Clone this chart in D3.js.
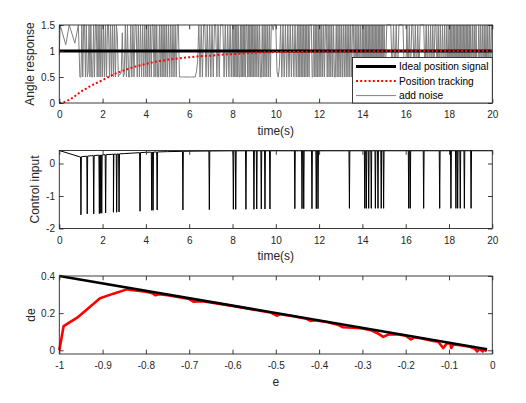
<!DOCTYPE html>
<html>
<head>
<meta charset="utf-8">
<script src="https://cdn.jsdelivr.net/npm/d3@7"></script>
<style>
  body { margin: 0; background: #fff; }
  svg { display: block; font-family: "Liberation Sans", Arial, Helvetica, sans-serif; }
</style>
</head>
<body>
<div id="chart"></div>
<script>
// ---- data ----
const H = 1.5, L = 0.5;

// panel 1: angle response
const idealT = [0, 20];
const idealV = [1, 1];
const trackT = [0, 0.25, 0.5, 0.75, 1, 1.5, 2, 2.5, 3, 3.5, 4, 4.5, 5, 5.5, 6, 6.5, 7, 7.5, 8, 9, 10, 11, 12, 14, 16, 18, 20];
const trackV = [0, 0.02, 0.07, 0.14, 0.22, 0.34, 0.44, 0.55, 0.63, 0.70, 0.75, 0.80, 0.83, 0.86, 0.88, 0.90, 0.91, 0.93, 0.94, 0.97, 0.98, 0.985, 0.99, 0.995, 1, 1, 1];
// noise: a few early samples, then one row per second from t = 1
// (samples spread evenly across that second; denser rows where the picture is denser)
const noiseEarlyT = [0, 0.04, 0.3, 0.46, 0.72, 0.88, 0.95];
const noiseEarlyV = [0.92, 1.5, 1.12, 1.5, 1.15, 1.5, 0.5];
const noiseRowStart = 1;
const noiseRows = [
  [L,H,L,H,H,L,H,L,0.6,H,L,H,L,L,H,L,H,H,L,H,L,H,L,H],
  [L,H,L,H,L,H,H,L,H,L,H,L,H,L,H,1.3,L,0.55,0.55,0.6,1.35,L],
  [0.55,H,L,H,L,L,H,L,H,L,H,H,L,H,L,H,L,H,L,H],
  [L,H,L,H,L,H,L,H,H,L,H,L,H,L,L,H,L,H,L,H,L,H,L,H],
  [L,H,L,H,L,H,L,H,L,H,H,L,L,L,L,L,L,L,L,L],
  [L,L,L,L,L,L,0.6,0.8,H,L,H,L,H,H,L,H,L,H],
  [L,H,L,H,H,L,H,L,H,H,H,L,H,L,H,L,H,L],
  [H,L,H,L,H,L,H,L,H,L,L,H,L,H,L,H,L,H,L,H,H,L,H,L,H,L,H,L,H,L],
  [H,L,H,L,H,L,H,L,L,H,L,H,L,H,L,H,L,H,L,H,H,1.4,H,H],
  [H,0.6,L,0.7,H,L,H,L,H,L,H,L,H,L,H,L,H,L],
  [H,L,H,L,H,L,H,L,H,L,H,L,H,L,H,L,H,H,H,L,L,H,L,H,L,H,L,H],
  [L,H,L,H,L,H,L,H,H,L,H,L,H,L,H,L,H,L,L,H,L,H,L,H],
  [L,H,L,H,L,H,L,H,L,H,L,H,L,H,H,L,H,L,H,L,H,L,H,L],
  [H,L,H,L,H,L,H,L,H,L,H,L,H,L,H,L,H,L,H,L,H,L,H,L,H,L,H,L,H,L],
  [H,L,H,H,H,H,L,H,L,H,L,H,H,H,H,L],
  [L,H,L,H,L,H,H,L,H,L,H,L,H,H,H,H,L,H],
  [L,H,L,H,L,H,L,H,H,L,H,L,H,L,H,L,H,L,H,L],
  [H,L,H,L,H,L,H,L,H,L,H,L,H,L,H,L,H,L,H,L,H,L,H,L,H,L,H,L,H,L],
  [H,L,H,L,H,L,H,L,L,H,L,H,L,H,L,H,L,H,L,H,L,H,L,H],
  [H]
];

// panel 2: control input (slow baseline plus short downward spikes)
const ctrlBaseT = [0, 0.97, 1.03, 1.5, 2, 2.5, 3, 3.5, 4, 5, 6, 7, 8, 20];
const ctrlBaseU = [0.4, 0.2, 0.21, 0.24, 0.265, 0.285, 0.305, 0.325, 0.345, 0.365, 0.378, 0.385, 0.39, 0.392];
const spikeT = [1.00, 1.29, 1.59, 1.85, 1.89, 1.96, 2.14, 2.50, 2.65, 2.76, 3.73, 4.27, 4.33, 4.52, 5.71, 6.93,
  8.04, 8.15, 8.62, 8.99, 9.12, 9.33, 9.50, 9.73, 10.88, 11.21, 11.29, 11.67, 11.87, 11.95, 13.40,
  14.11, 14.18, 14.29, 14.41, 14.60, 14.72, 14.87, 14.98, 16.14, 16.21, 16.83, 17.57, 18.09, 18.32,
  18.40, 18.52, 18.71, 19.02];
const spikeU = [-1.58, -1.55, -1.55, -1.54, -1.53, -1.53, -1.52, -1.50, -1.50, -1.49, -1.47, -1.44, -1.44, -1.43, -1.43, -1.42,
  -1.41, -1.41, -1.41, -1.41, -1.40, -1.40, -1.40, -1.40, -1.39, -1.39, -1.39, -1.39, -1.39, -1.39, -1.38,
  -1.38, -1.38, -1.38, -1.38, -1.38, -1.38, -1.38, -1.38, -1.38, -1.38, -1.38, -1.38, -1.38, -1.38,
  -1.38, -1.38, -1.38, -1.38];

// panel 3: phase plane
const surfE = [-1, -0.012];
const surfDe = [0.4, 0.006];
const phaseE = [-1, -0.99, -0.956, -0.906, -0.875, -0.844, -0.80, -0.785, -0.778, -0.77, -0.75, -0.72, -0.70, -0.69, -0.67,
  -0.64, -0.60, -0.55, -0.51, -0.498, -0.49, -0.46, -0.43, -0.42, -0.41, -0.38, -0.355, -0.345, -0.32, -0.30,
  -0.28, -0.265, -0.252, -0.24, -0.22, -0.20, -0.188, -0.18, -0.16, -0.14, -0.125, -0.113, -0.105, -0.097,
  -0.095, -0.09, -0.07, -0.05, -0.04, -0.035, -0.03, -0.022, -0.018, -0.013];
const phaseDe = [0, 0.13, 0.18, 0.28, 0.305, 0.328, 0.315, 0.307, 0.296, 0.302, 0.296, 0.285, 0.276, 0.262, 0.264,
  0.254, 0.238, 0.218, 0.202, 0.186, 0.194, 0.183, 0.17, 0.158, 0.162, 0.151, 0.136, 0.124, 0.122, 0.118,
  0.108, 0.092, 0.072, 0.085, 0.086, 0.078, 0.058, 0.07, 0.062, 0.052, 0.046, 0.012, 0.038, 0.035,
  0.012, 0.032, 0.026, 0.018, 0.008, -0.006, 0.01, -0.006, 0.005, -0.006];

// ticks
const timeTicks = [0, 2, 4, 6, 8, 10, 12, 14, 16, 18, 20];
const timeTickLabels = ["0", "2", "4", "6", "8", "10", "12", "14", "16", "18", "20"];
const angleTicks = [0, 0.5, 1, 1.5];
const angleTickLabels = ["0", "0.5", "1", "1.5"];
const ctrlTicks = [-2, -1, 0];
const ctrlTickLabels = ["-2", "-1", "0"];
const eTicks = [-1, -0.9, -0.8, -0.7, -0.6, -0.5, -0.4, -0.3, -0.2, -0.1, 0];
const eTickLabels = ["-1", "-0.9", "-0.8", "-0.7", "-0.6", "-0.5", "-0.4", "-0.3", "-0.2", "-0.1", "0"];
const deTicks = [0, 0.2, 0.4];
const deTickLabels = ["0", "0.2", "0.4"];

const legendNames = ["Ideal position signal", "Position tracking", "add noise"];

// ---- layout ----
const W = 526, Hh = 403;
const left = 59.3, right = 492.3, ph = 78;
const AX = '#262626';
const TICK = 4.3;

const svg = d3.select('#chart').append('svg')
  .attr('width', W).attr('height', Hh);

function panel(top, xDomain, yDomain, xTicks, xLabels, yTicks, yLabels, xTitle, yTitle, yTitleX) {
  const x = d3.scaleLinear().domain(xDomain).range([left, right]);
  const y = d3.scaleLinear().domain(yDomain).range([top + ph, top]);
  const g = svg.append('g');
  const plot = g.append('g');

  const style = sel => {
    sel.select('.domain').remove();
    sel.selectAll('line').attr('stroke', AX).attr('stroke-width', 0.9);
    sel.selectAll('text').attr('fill', AX).attr('font-size', 10).attr('font-family', null);
  };
  g.append('g').attr('transform', `translate(0,${top + ph})`)
    .call(d3.axisBottom(x).tickValues(xTicks).tickFormat((d, i) => xLabels[i])
      .tickSizeInner(-TICK).tickSizeOuter(0).tickPadding(8.3)).call(style);
  g.append('g').attr('transform', `translate(0,${top})`)
    .call(d3.axisTop(x).tickValues(xTicks).tickFormat('')
      .tickSizeInner(-TICK).tickSizeOuter(0)).call(style);
  g.append('g').attr('transform', `translate(${left},0)`)
    .call(d3.axisLeft(y).tickValues(yTicks).tickFormat((d, i) => yLabels[i])
      .tickSizeInner(-TICK).tickSizeOuter(0).tickPadding(4.3)).call(style);
  g.append('g').attr('transform', `translate(${right},0)`)
    .call(d3.axisRight(y).tickValues(yTicks).tickFormat('')
      .tickSizeInner(-TICK).tickSizeOuter(0)).call(style);

  g.append('rect')
    .attr('x', left).attr('y', top).attr('width', right - left).attr('height', ph)
    .attr('fill', 'none').attr('stroke', AX).attr('stroke-width', 0.9);

  g.append('text')
    .attr('x', (left + right) / 2).attr('y', top + ph + 31.6)
    .attr('text-anchor', 'middle').attr('font-size', 12).attr('fill', AX)
    .text(xTitle);
  g.append('text')
    .attr('transform', `translate(${yTitleX},${top + ph / 2}) rotate(-90)`)
    .attr('text-anchor', 'middle').attr('font-size', 12).attr('fill', AX)
    .text(yTitle);

  return { x, y, plot, g };
}

function drawLine(p, xs, ys, color, width, dash) {
  const pts = xs.map((d, i) => [d, ys[i]]);
  const path = p.plot.append('path')
    .datum(pts)
    .attr('fill', 'none')
    .attr('stroke', color)
    .attr('stroke-width', width)
    .attr('stroke-linejoin', 'round')
    .attr('d', d3.line().x(d => p.x(d[0])).y(d => p.y(d[1])));
  if (dash) path.attr('stroke-dasharray', dash);
  return path;
}

// ---- panel 1 ----
const p1 = panel(25, [0, 20], [0, 1.5], timeTicks, timeTickLabels, angleTicks, angleTickLabels,
  'time(s)', 'Angle response', 34);

const noiseT = noiseEarlyT.slice(), noiseAll = noiseEarlyV.slice();
noiseRows.forEach((row, r) => {
  row.forEach((v, j) => {
    noiseT.push(noiseRowStart + r + j / row.length);
    noiseAll.push(v);
  });
});
drawLine(p1, noiseT, noiseAll, '#7f7f7f', 1);
drawLine(p1, idealT, idealV, '#000', 3);
drawLine(p1, trackT, trackV, '#ff0000', 2, '2,2.2');

// legend
const lg = p1.g.append('g');
const lx0 = 352.5, ly0 = 57.5;
lg.append('rect')
  .attr('x', lx0).attr('y', ly0).attr('width', right - lx0).attr('height', 25 + ph - ly0)
  .attr('fill', '#fff').attr('stroke', AX).attr('stroke-width', 0.9);
const legendStyle = [
  { color: '#000', width: 3, dash: null },
  { color: '#ff0000', width: 2, dash: '2,2.2' },
  { color: '#7f7f7f', width: 1, dash: null }
];
const legendY = [66.6, 81, 95.6];
legendNames.forEach((name, i) => {
  const s = legendStyle[i];
  const ln = lg.append('line')
    .attr('x1', 356).attr('x2', 396).attr('y1', legendY[i]).attr('y2', legendY[i])
    .attr('stroke', s.color).attr('stroke-width', s.width);
  if (s.dash) ln.attr('stroke-dasharray', s.dash);
  lg.append('text')
    .attr('x', 399).attr('y', legendY[i]).attr('dy', '0.35em')
    .attr('font-size', 10.2).attr('fill', '#000')
    .text(name);
});

// ---- panel 2 ----
const p2 = panel(150.5, [0, 20], [-2, 0.4], timeTicks, timeTickLabels, ctrlTicks, ctrlTickLabels,
  'time(s)', 'Control input', 38.5);

const base = d3.scaleLinear().domain(ctrlBaseT).range(ctrlBaseU);
const hw = 0.02;
let ctrlPts = ctrlBaseT.map((t, i) => [t, ctrlBaseU[i]]);
spikeT.forEach((t, i) => {
  ctrlPts.push([t - hw, base(t - hw)], [t, spikeU[i]], [t + hw, base(t + hw)]);
});
ctrlPts.sort((a, b) => a[0] - b[0]);
drawLine(p2, ctrlPts.map(d => d[0]), ctrlPts.map(d => d[1]), '#000', 1);

// ---- panel 3 ----
const p3 = panel(276, [-1, 0], [-0.02, 0.4], eTicks, eTickLabels, deTicks, deTickLabels,
  'e', 'de', 35);
drawLine(p3, phaseE, phaseDe, '#ff0000', 2.6);
drawLine(p3, surfE, surfDe, '#000', 2.6);
</script>
</body>
</html>
